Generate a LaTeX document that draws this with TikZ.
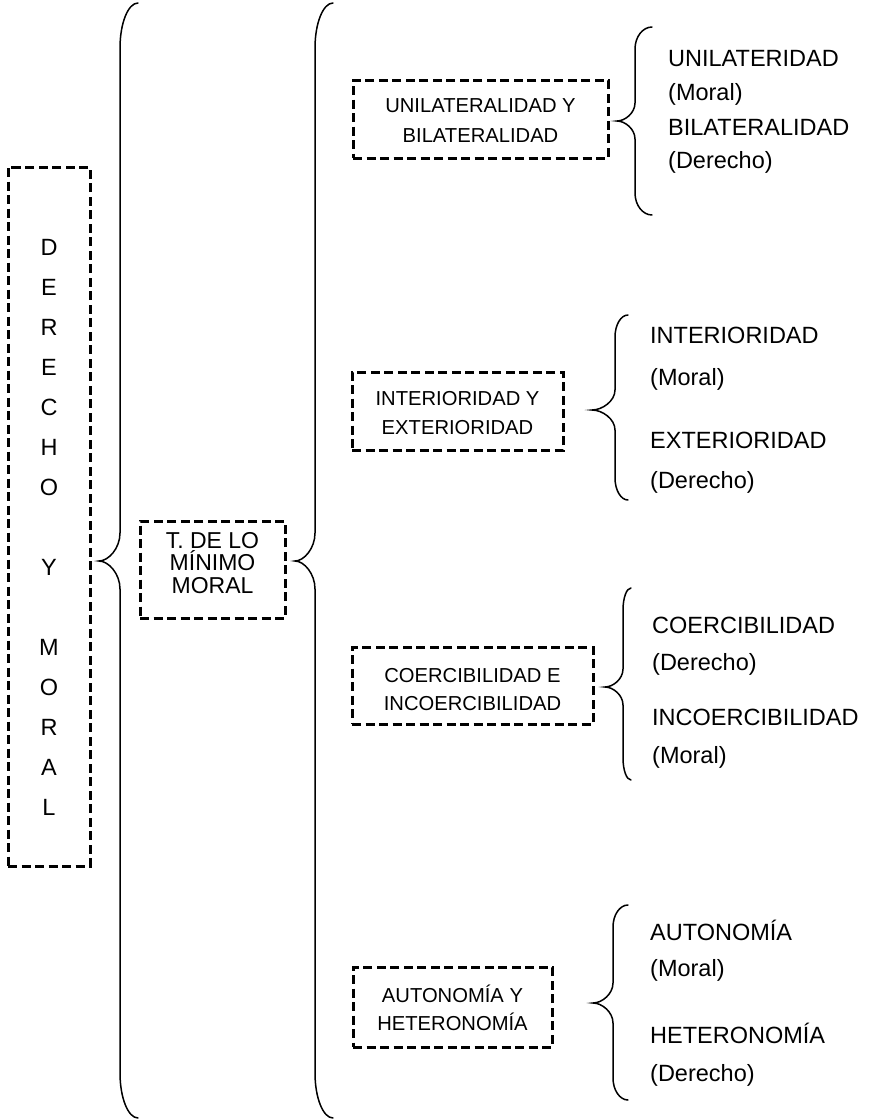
\documentclass[tikz,border=0pt]{standalone}
\usepackage{fontspec}
\setmainfont{Liberation Sans}

% Curly brace with rounded end curls and a pointed tip on its left side.
% #1 stem x, #2 top y, #3 bottom y, #4 end x, #5 tip x, #6 tip y,
% #7 end-curl height, #8 tip-curve height
\newcommand\curlybrace[8]{%
  \draw[bracestroke] (#4,#2) .. controls ({#1+0.45*(#4-#1)},#2) and (#1,{#2+0.45*#7}) .. (#1,{#2+#7})
    -- (#1,{#6-#8}) .. controls (#1,{#6-0.45*#8}) and ({#5+0.45*(#1-#5)},#6) .. (#5,#6)
    .. controls ({#5+0.45*(#1-#5)},#6) and (#1,{#6+0.45*#8}) .. (#1,{#6+#8})
    -- (#1,{#3-#7}) .. controls (#1,{#3-0.45*#7}) and ({#1+0.45*(#4-#1)},#3) .. (#4,#3);}

\begin{document}
\begin{tikzpicture}[x=1pt,y=-1pt,
  dbox/.style={draw, line width=3pt, dash pattern=on 9pt off 4.5pt, inner sep=0pt},
  bracestroke/.style={line width=1.5pt, line cap=round},
  line/.style={anchor=base, inner sep=0pt},
  sidetext/.style={anchor=base west, inner sep=0pt, font=\fontsize{23.5}{28}\selectfont},
  boxtext/.style={line, font=\fontsize{20.2}{24}\selectfont},
  midtext/.style={line, font=\fontsize{23}{26}\selectfont},
  lettertext/.style={line, font=\fontsize{23.5}{27}\selectfont}]

\useasboundingbox (0,0) rectangle (870,1120);

% left column: DERECHO Y MORAL, one letter per row
\node[dbox, minimum width=82pt, minimum height=699pt] (dmbox) at (49,516.5) {};
\foreach \ch/\k in {D/0,E/1,R/2,E/3,C/4,H/5,O/6,Y/8,M/10,O/11,R/12,A/13,L/14}
  \node[lettertext] (dm\k) at (49,{255.2+40*\k}) {\ch};

% theory box
\node[dbox, minimum width=145pt, minimum height=97pt] (tmbox) at (212.5,569.5) {};
\node[midtext] (tm1) at (212.5,548) {T. DE LO};
\node[midtext] (tm2) at (212.5,570.5) {MÍNIMO};
\node[midtext] (tm3) at (212.5,593) {MORAL};

% category boxes
\node[dbox, minimum width=255pt, minimum height=78pt] (ubox) at (480.5,119) {};
\node[boxtext] (u1) at (480.5,112.4) {UNILATERALIDAD Y};
\node[boxtext] (u2) at (480.5,142.4) {BILATERALIDAD};

\node[dbox, minimum width=211pt, minimum height=78pt] (ibox) at (457.5,411) {};
\node[boxtext] (i1) at (457.5,405.4) {INTERIORIDAD Y};
\node[boxtext] (i2) at (457.5,434.4) {EXTERIORIDAD};

\node[dbox, minimum width=241pt, minimum height=77pt] (cbox) at (472.5,685.5) {};
\node[boxtext] (c1) at (472.5,682.4) {COERCIBILIDAD E};
\node[boxtext] (c2) at (472.5,710.4) {INCOERCIBILIDAD};

\node[dbox, minimum width=199pt, minimum height=80pt] (abox) at (452.5,1007) {};
\node[boxtext] (a1) at (452.5,1002.4) {AUTONOMÍA Y};
\node[boxtext] (a2) at (452.5,1030.4) {HETERONOMÍA};

% terms on the right
\node[sidetext] (u3) at (668,66) {UNILATERIDAD};
\node[sidetext] (u4) at (668,100) {(Moral)};
\node[sidetext] (u5) at (668,135) {BILATERALIDAD};
\node[sidetext] (u6) at (668,168) {(Derecho)};

\node[sidetext] (i3) at (650,343) {INTERIORIDAD};
\node[sidetext] (i4) at (650,385) {(Moral)};
\node[sidetext] (i5) at (650,448) {EXTERIORIDAD};
\node[sidetext] (i6) at (650,488) {(Derecho)};

\node[sidetext] (c3) at (652,633) {COERCIBILIDAD};
\node[sidetext] (c4) at (652,670) {(Derecho)};
\node[sidetext] (c5) at (652,725) {INCOERCIBILIDAD};
\node[sidetext] (c6) at (652,763) {(Moral)};

\node[sidetext] (a3) at (650,940) {AUTONOMÍA};
\node[sidetext] (a4) at (650,976) {(Moral)};
\node[sidetext] (a5) at (650,1043) {HETERONOMÍA};
\node[sidetext] (a6) at (650,1081) {(Derecho)};

% braces
\curlybrace{120}{3}{1118}{138}{99}{561}{45}{28}
\curlybrace{315}{3}{1118}{333}{295}{561}{45}{28}
\curlybrace{635}{27}{215}{652}{617}{121}{22}{18}
\curlybrace{615}{315}{500}{628}{592}{410}{22}{20}
\curlybrace{623}{588}{780}{631}{605}{687}{22}{18}
\curlybrace{613}{905}{1100}{628}{593}{1003}{22}{20}

\end{tikzpicture}
\end{document}
